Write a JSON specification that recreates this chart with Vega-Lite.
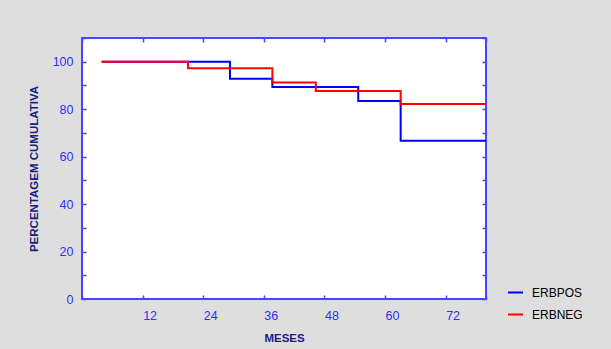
{
  "$schema": "https://vega.github.io/schema/vega-lite/v6.json",
  "width": 404,
  "height": 261,
  "autosize": {"type": "none"},
  "padding": {"left": 82, "top": 38, "right": 125, "bottom": 50},
  "background": "#dedede",
  "config": {
    "font": "Liberation Sans",
    "view": {"fill": "white", "stroke": "#4646ff", "strokeWidth": 2},
    "axis": {
      "domain": false,
      "grid": false,
      "tickColor": "#4646ff",
      "tickWidth": 1.5,
      "labelColor": "#2e2eff",
      "labelFont": "Liberation Sans",
      "labelFontSize": 12.5,
      "titleColor": "#1a1a80",
      "titleFont": "Liberation Sans",
      "titleFontSize": 11.5,
      "titleFontWeight": "bold"
    }
  },
  "data": {
    "values": [
      {"mes": 3.9, "pct": 100, "grupo": "ERBPOS"},
      {"mes": 29.3, "pct": 92.8, "grupo": "ERBPOS"},
      {"mes": 37.7, "pct": 89.3, "grupo": "ERBPOS"},
      {"mes": 54.7, "pct": 83.5, "grupo": "ERBPOS"},
      {"mes": 63.1, "pct": 66.7, "grupo": "ERBPOS"},
      {"mes": 80, "pct": 66.7, "grupo": "ERBPOS"},
      {"mes": 3.9, "pct": 100, "grupo": "ERBNEG"},
      {"mes": 21.0, "pct": 97.2, "grupo": "ERBNEG"},
      {"mes": 37.7, "pct": 91.2, "grupo": "ERBNEG"},
      {"mes": 46.3, "pct": 87.7, "grupo": "ERBNEG"},
      {"mes": 63.1, "pct": 82.2, "grupo": "ERBNEG"},
      {"mes": 80, "pct": 82.2, "grupo": "ERBNEG"}
    ]
  },
  "resolve": {"axis": {"x": "independent", "y": "independent"}},
  "layer": [
    {
      "mark": {"type": "line", "interpolate": "step-after", "strokeWidth": 2, "clip": true},
      "encoding": {
        "x": {
          "field": "mes",
          "type": "quantitative",
          "scale": {"domain": [0, 80], "nice": false, "zero": false},
          "axis": {
            "title": "MESES",
            "values": [0, 12, 24, 36, 48, 60, 72, 80],
            "labelExpr": "(datum.value == 0 || datum.value == 80) ? '' : datum.label",
            "tickSize": -4,
            "labelPadding": 14,
            "labelOffset": 7,
            "titlePadding": 11
          }
        },
        "y": {
          "field": "pct",
          "type": "quantitative",
          "scale": {"domain": [0, 110], "nice": false},
          "axis": {
            "title": "PERCENTAGEM CUMULATIVA",
            "values": [0, 10, 20, 30, 40, 50, 60, 70, 80, 90, 100, 110],
            "labelExpr": "(datum.value % 20 == 0 && datum.value <= 100) ? datum.label : ''",
            "tickSize": -4,
            "labelPadding": 13,
            "titlePadding": 13
          }
        },
        "color": {
          "field": "grupo",
          "type": "nominal",
          "scale": {"domain": ["ERBPOS", "ERBNEG"], "range": ["#0000ff", "#ff0000"]},
          "legend": {
            "title": null,
            "orient": "none",
            "legendX": 425,
            "legendY": 246,
            "symbolType": "stroke",
            "symbolSize": 225,
            "symbolStrokeWidth": 2,
            "labelFont": "Liberation Sans",
            "labelFontSize": 12,
            "labelColor": "#000000",
            "labelOffset": 8,
            "rowPadding": 7
          }
        }
      }
    },
    {
      "mark": {"type": "line", "opacity": 0},
      "encoding": {
        "x": {
          "field": "mes",
          "type": "quantitative",
          "axis": {
            "orient": "top",
            "title": null,
            "labels": false,
            "values": [0, 12, 24, 36, 48, 60, 72, 80],
            "tickSize": -4
          }
        },
        "y": {
          "field": "pct",
          "type": "quantitative",
          "axis": {
            "orient": "right",
            "title": null,
            "labels": false,
            "values": [0, 10, 20, 30, 40, 50, 60, 70, 80, 90, 100, 110],
            "tickSize": -4
          }
        }
      }
    }
  ]
}
